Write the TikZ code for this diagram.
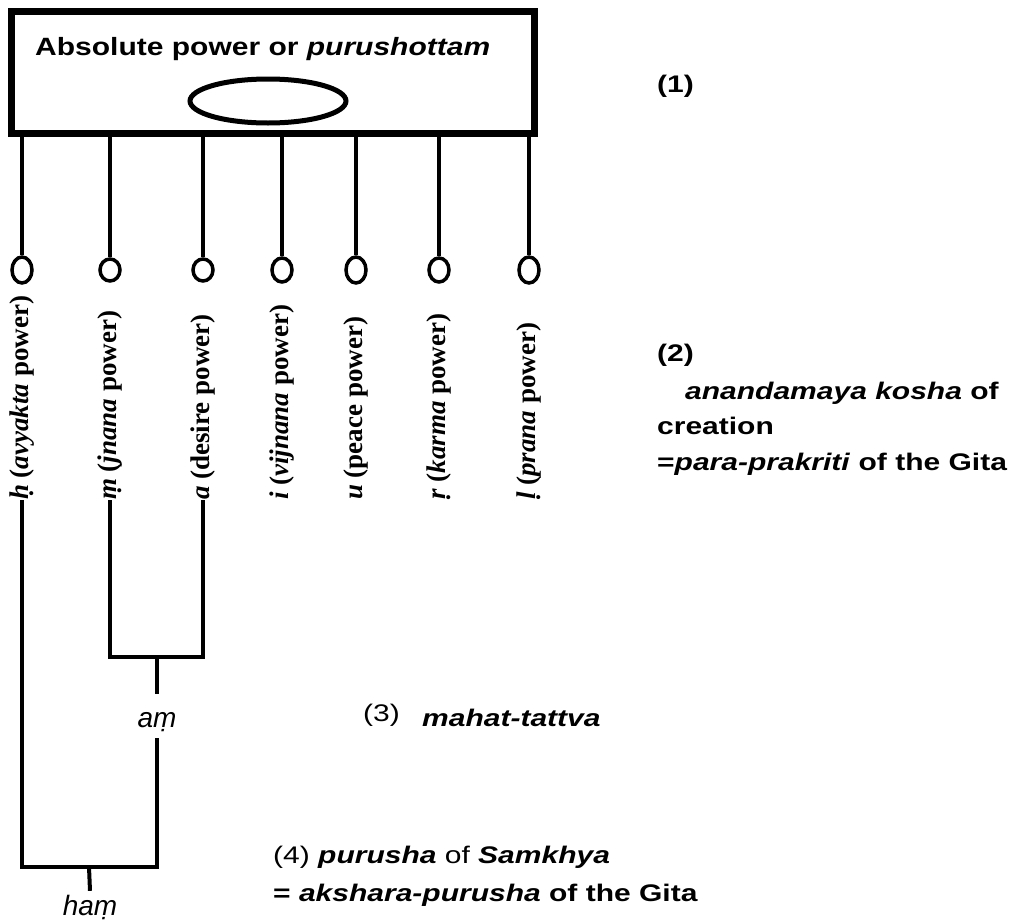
\documentclass[tikz,border=0pt]{standalone}
\usepackage{fontspec}
\setmainfont{Liberation Serif}
\setsansfont{Liberation Sans}
\usepackage{graphicx}
\usetikzlibrary{calc,shapes.geometric}

% the sans texts of the picture run wide
\newcommand{\widetxt}[2][1.25]{\scalebox{#1}[1]{#2}}

\begin{document}
\begin{tikzpicture}[x=1pt,y=-1pt,
    knob/.style={draw,ellipse,line width=3.5pt,minimum width=20pt,inner sep=0pt},
    pow/.style={rotate=90,anchor=west,inner sep=0pt,font=\fontsize{27}{30}\selectfont\bfseries},
    wire/.style={line width=4pt},
    note/.style={anchor=base west,inner sep=0pt,font=\fontsize{24}{28}\selectfont\sffamily\bfseries},
    root/.style={anchor=base,inner sep=0pt,font=\fontsize{28}{30}\selectfont\sffamily\itshape}]

    \useasboundingbox (0,0) rectangle (1021,924);

    % top box
    \node[draw,line width=7pt,minimum width=523pt,minimum height=122pt,inner sep=0pt] (absolute) at (272.5,72) {};
    \node[anchor=base west,inner sep=0pt,font=\fontsize{25}{30}\selectfont\sffamily\bfseries] (title) at (35,55)
        {\widetxt[1.2]{Absolute power or \textit{purushottam}}};
    \node[draw,ellipse,line width=5pt,minimum width=156pt,minimum height=44pt] (oval) at (268,101) {};

    % seven powers
    \foreach \x/\ry/\nm in {22/26/h, 110/22/m, 203/22/a, 282/24/i, 356/26/u, 439/24/r, 529/26/l} {
        \node[knob,minimum height=\ry pt] (c\nm) at (\x,270) {};
        \draw[wire] (absolute.south -| c\nm) -- (c\nm.north);
    }

    \node[pow] (lh) at (22,500) {\textit{ḥ} (\textit{avyakta} power)};
    \node[pow] (lm) at (110,500) {\textit{ṃ} (\textit{jnana} power)};
    \node[pow] (la) at (203,500) {\textit{a} (desire power)};
    \node[pow] (li) at (282,500) {\textit{i} (\textit{vijnana} power)};
    \node[pow] (lu) at (356,500) {\textit{u} (peace power)};
    \node[pow] (lr) at (439,500) {\textit{ṛ} (\textit{karma} power)};
    \node[pow] (ll) at (529,500) {\textit{ḷ} (\textit{prana} power)};

    % am
    \coordinate (amj) at (157,657);
    \draw[wire] (lm.west) |- (amj) -| (la.west);
    \node[root,text height=33pt,text depth=11pt] (am) at (157,727) {aṃ};
    \draw[wire] (amj) -- (am.north);

    % ham
    \coordinate (hamj) at (89,867);
    \draw[wire] (lh.west) |- (hamj) -| (am.south);
    \node[root,text height=24pt] (ham) at (90,915) {haṃ};
    \draw[wire] (hamj) -- (ham.north);

    % levels
    \node[note] (n1) at (657,92) {\widetxt{(1)}};
    \node[note] (n2) at (657,361) {\widetxt{(2)}};
    \node[note] (n2a) at (685,399) {\widetxt{\textit{anandamaya kosha} of}};
    \node[note] (n2b) at (657,434) {\widetxt{creation}};
    \node[note] (n2c) at (657,470) {\widetxt{=\textit{para-prakriti} of the Gita}};
    \node[note,font=\fontsize{24}{28}\selectfont\sffamily] (n3) at (363,721) {\widetxt{(3)}};
    \node[note] (n3a) at (422,726) {\widetxt{\textit{mahat-tattva}}};
    \node[note] (n4) at (273,863) {\widetxt{{\mdseries (4)} \textit{purusha} {\mdseries of} \textit{Samkhya}}};
    \node[note] (n4b) at (273,901) {\widetxt{= \textit{akshara-purusha} of the Gita}};
\end{tikzpicture}
\end{document}
